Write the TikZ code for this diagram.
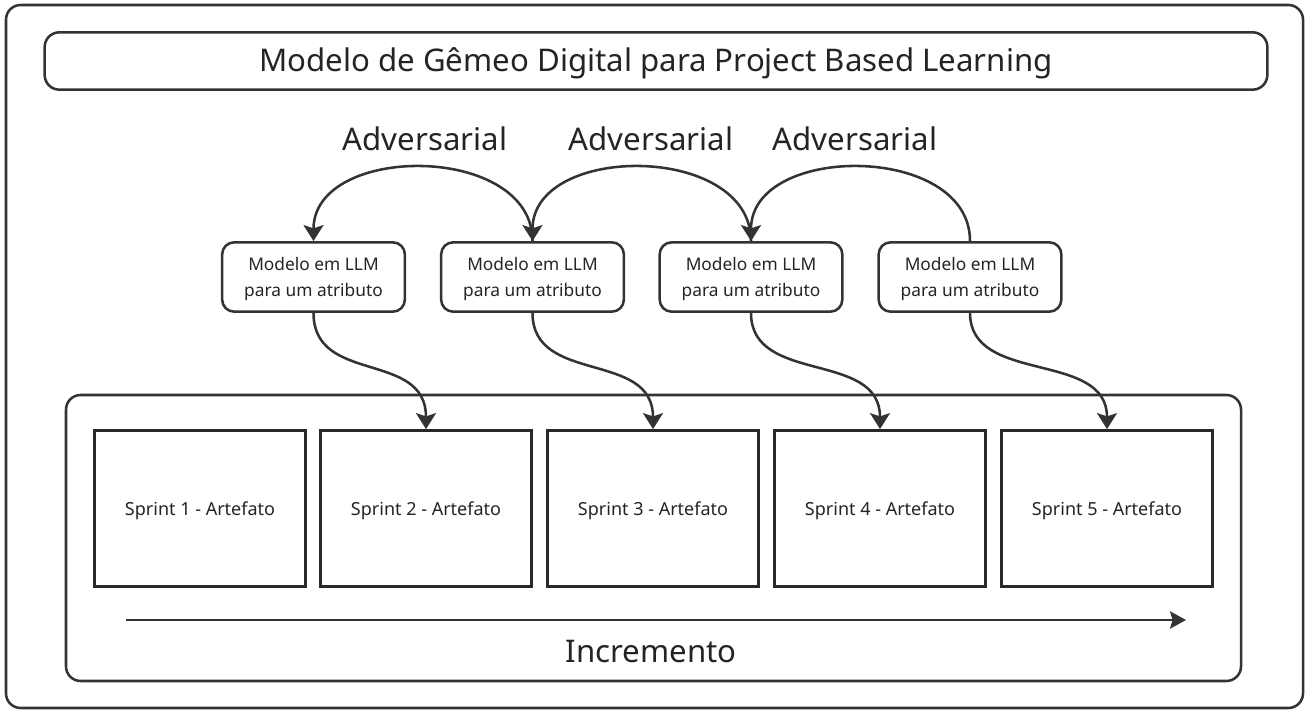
\documentclass[tikz,border=0pt]{standalone}
\usepackage{fontspec}
\setmainfont{Noto Sans}
\usetikzlibrary{arrows.meta}
\definecolor{ink}{HTML}{333333}
\begin{document}
\begin{tikzpicture}[x=0.75pt,y=-0.75pt,
  frame/.style={draw=ink,line width=1.9pt,rounded corners=11pt},
  llm/.style={draw=ink,line width=1.9pt,rounded corners=9pt,minimum width=137pt,minimum height=52pt,align=center,inner sep=0pt},
  llmtext/.style={align=center,font=\fontsize{13}{19.5}\selectfont,text=ink!70!black},
  sprint/.style={draw=ink!80!black,line width=2.1pt,minimum width=158pt,minimum height=117pt,inner sep=0pt},
  sprinttext/.style={font=\fontsize{13.5}{16}\selectfont,text=ink!70!black},
  big/.style={font=\fontsize{23.4}{28}\selectfont,text=ink!70!black},
  conn/.style={draw=ink,line width=1.9pt,-{Stealth[length=12pt,width=15pt,inset=2.5pt]}}
]
\useasboundingbox (0,0) rectangle (1312,712);
\path[frame] (6,5) rectangle (1303,708);
\node[frame,minimum width=917pt,minimum height=43pt,inner sep=0pt] (title) at (656,61) {};
\node[big] (titletext) at (656,63.5) {Modelo de Gêmeo Digital para Project Based Learning};
\node[big] (adv1) at (425,139) {Adversarial};
\node[big] (adv2) at (651,139) {Adversarial};
\node[big] (adv3) at (855,139) {Adversarial};
\node[llm] (m1) at (313.5,277) {};
\node[llm] (m2) at (532.5,277) {};
\node[llm] (m3) at (751,277) {};
\node[llm] (m4) at (970,277) {};
\foreach \m in {m1,m2,m3,m4}
  \node[llmtext] at ([yshift=-1.5pt]\m.center) {Modelo em LLM\\para um atributo};
\path[frame] (66,395) rectangle (1241,681);
\node[sprint] (s1) at (200,508.5) {};
\node[sprint] (s2) at (426,508.5) {};
\node[sprint] (s3) at (653,508.5) {};
\node[sprint] (s4) at (880,508.5) {};
\node[sprint] (s5) at (1107,508.5) {};
\foreach \s/\n in {s1/1,s2/2,s3/3,s4/4,s5/5}
  \node[sprinttext] at ([yshift=-2pt]\s.center) {Sprint \n\ - Artefato};
\coordinate (ia) at (126,620);
\coordinate (ib) at (1186,620);
\draw[draw=ink,line width=1.5pt,-{Stealth[length=12pt,width=13pt,inset=2pt]}] (ia) -- (ib);
\node[big] (inc) at (651,652) {Incremento};
\draw[conn] (m2.north) .. controls (532.5,143) and (313.5,143) .. (m1.north);
\draw[conn] (m3.north) .. controls (751,143) and (532.5,143) .. (m2.north);
\draw[conn] (m4.north) .. controls (970,143) and (751,143) .. (m3.north);
\draw[conn] (m1.south) .. controls (313.5,385) and (426,350) .. (s2.north);
\draw[conn] (m2.south) .. controls (532.5,385) and (653,350) .. (s3.north);
\draw[conn] (m3.south) .. controls (751,385) and (880,350) .. (s4.north);
\draw[conn] (m4.south) .. controls (970,385) and (1107,350) .. (s5.north);
\end{tikzpicture}
\end{document}
